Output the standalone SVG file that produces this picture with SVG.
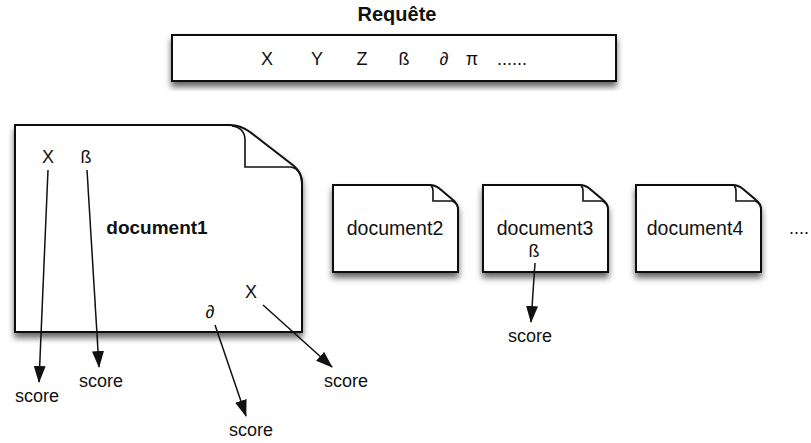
<svg xmlns="http://www.w3.org/2000/svg" width="811" height="443" viewBox="0 0 811 443">
<style>
text{font-family:"Liberation Sans",Arial,Helvetica,sans-serif;fill:#111;}
.t{font-size:18px;text-anchor:middle;}
.b{font-weight:bold;}
.shape{fill:#fff;stroke:#111;stroke-width:2;}
.fold{fill:none;stroke:#111;stroke-width:1.6;}
.conn line{stroke:#111;stroke-width:1.5;}
</style>
<defs>
<filter id="sh" x="-10%" y="-10%" width="120%" height="130%">
<feDropShadow dx="0" dy="5" stdDeviation="3" flood-color="#000" flood-opacity="0.6"/>
</filter>
<marker id="ahl" markerWidth="17" markerHeight="12" refX="16" refY="6" orient="auto" markerUnits="userSpaceOnUse" viewBox="0 0 17 12">
<path d="M0,0 L17,6 L0,12 Z" fill="#111"/>
</marker>
</defs>
<rect width="811" height="443" fill="#fff"/>

<g id="requete">
<text x="397" y="21" class="t b" style="font-size:20px">Requête</text>
<rect x="172" y="35" width="444" height="46" class="shape" filter="url(#sh)"/>
<text x="267" y="65" class="t">X</text>
<text x="317" y="65" class="t">Y</text>
<text x="362" y="65" class="t">Z</text>
<text x="404" y="65" class="t">ß</text>
<text x="444" y="65" class="t">∂</text>
<text x="472" y="65" class="t">π</text>
<text x="512" y="65" class="t">......</text>
</g>

<g id="document1">
<path d="M15,125 H230 Q240,125 250,132 L294,166 Q302,173 302,183 V332 H15 Z" class="shape" filter="url(#sh)"/>
<path d="M232,126 Q245,128 245,140 V167 H291 Q301,169 302,182" class="fold"/>
<text x="157" y="234" class="t b" style="font-size:19px">document1</text>
<text x="48" y="163" class="t">X</text>
<text x="86" y="163" class="t">ß</text>
<text x="210" y="318" class="t">∂</text>
<text x="251" y="298" class="t">X</text>
</g>

<g id="document2">
<path d="M333,185 H430 Q435,185 440,189 L453,200 Q458,204 458,209 V272 H333 Z" class="shape" filter="url(#sh)"/>
<path d="M431,186 Q433,187 433,191 V201 H452 Q457,203 458,208" class="fold"/>
<text x="395" y="235" class="t" style="font-size:19.5px">document2</text>
</g>

<g id="document3">
<path d="M483,185 H580 Q585,185 590,189 L603,200 Q608,204 608,209 V272 H483 Z" class="shape" filter="url(#sh)"/>
<path d="M581,186 Q583,187 583,191 V201 H602 Q607,203 608,208" class="fold"/>
<text x="545" y="235" class="t" style="font-size:19.5px">document3</text>
<text x="534" y="257" class="t">ß</text>
</g>

<g id="document4">
<path d="M636,185 H733 Q738,185 743,189 L756,200 Q761,204 761,209 V272 H636 Z" class="shape" filter="url(#sh)"/>
<path d="M734,186 Q736,187 736,191 V201 H755 Q760,203 761,208" class="fold"/>
<text x="695" y="235" class="t" style="font-size:19.5px">document4</text>
</g>

<g id="more">
<text x="789" y="234" class="t" style="text-anchor:start">....</text>
</g>

<g id="connectors" class="conn">
<line x1="48" y1="170" x2="39" y2="382" marker-end="url(#ahl)"/>
<line x1="87" y1="170" x2="99" y2="367" marker-end="url(#ahl)"/>
<line x1="215" y1="325" x2="246" y2="416" marker-end="url(#ahl)"/>
<line x1="263" y1="305" x2="332" y2="367" marker-end="url(#ahl)"/>
<line x1="535" y1="263" x2="531" y2="322" marker-end="url(#ahl)"/>
</g>

<g id="scores">
<text x="37" y="402" class="t">score</text>
<text x="101" y="387" class="t">score</text>
<text x="251" y="436" class="t">score</text>
<text x="346" y="387" class="t">score</text>
<text x="530" y="342" class="t">score</text>
</g>
</svg>
